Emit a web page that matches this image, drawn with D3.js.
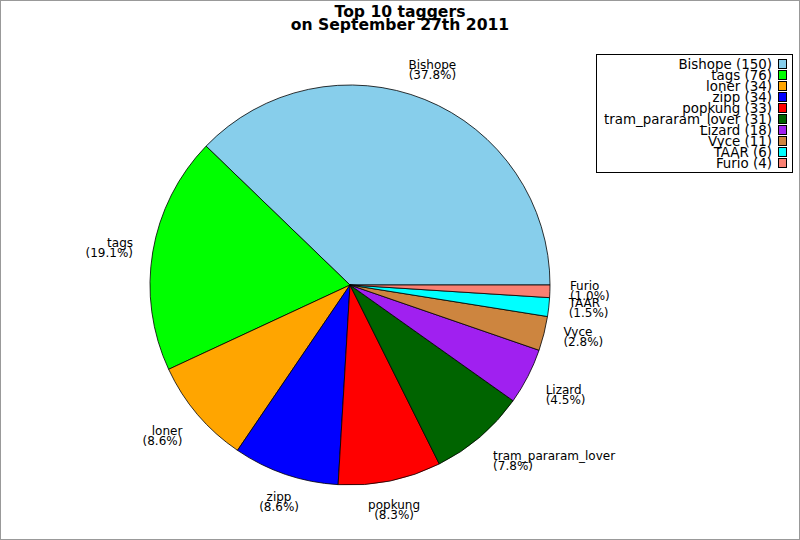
<!DOCTYPE html>
<html>
<head>
<meta charset="utf-8">
<script src="https://cdn.jsdelivr.net/npm/d3@7"></script>
<style>
  body { margin: 0; background: #fff; }
  svg { display: block; }
  text { font-family: "DejaVu Sans", sans-serif; fill: #000; }
</style>
</head>
<body>
<div id="chart"></div>
<script>
'use strict';

// top 10 taggers on 2011-09-27
var names = ["Bishope", "tags", "loner", "zipp", "popkung", "tram_pararam_lover", "Lizard", "Vyce", "TAAR", "Furio"];
var counts = [150, 76, 34, 34, 33, 31, 18, 11, 6, 4];
var colors = ["#87ceeb", "#00ff00", "#ffa500", "#0000ff", "#ff0000", "#006400", "#a020f0", "#cd853f", "#00ffff", "#fa8072"];
var titleLines = ["Top 10 taggers", "on September 27th 2011"];

var width = 800, height = 540;
var cx = 350, cy = 285, radius = 200;

var total = d3.sum(counts);

var svg = d3.select("#chart").append("svg")
    .attr("width", width)
    .attr("height", height);

svg.append("rect")
    .attr("x", 0.5).attr("y", 0.5)
    .attr("width", width - 1).attr("height", height - 1)
    .attr("fill", "#fff")
    .attr("stroke", "#999");

// title
svg.append("g").selectAll("text").data(titleLines).enter()
    .append("text")
    .attr("x", 400)
    .attr("y", function (d, i) { return 17 + i * 13; })
    .attr("text-anchor", "middle")
    .style("font-weight", "bold")
    .style("font-size", "15.6px")
    .text(function (d) { return d; });

// slices go counter-clockwise from 3 o'clock
var pie = d3.pie().sort(null)
    .startAngle(Math.PI / 2)
    .endAngle(Math.PI / 2 - 2 * Math.PI);

var arcs = pie(counts);

var arc = d3.arc().innerRadius(0).outerRadius(radius);
var labelArc = d3.arc().innerRadius(radius * 1.1).outerRadius(radius * 1.1);

var g = svg.append("g").attr("transform", "translate(" + cx + "," + cy + ")");

g.selectAll(".slice").data(arcs).enter()
    .append("path")
    .attr("class", "slice")
    .attr("d", arc)
    .attr("fill", function (d, i) { return colors[i]; })
    .attr("stroke", "#000")
    .attr("stroke-width", 0.8);

g.selectAll(".lbl").data(arcs).enter()
    .append("text")
    .attr("class", "lbl")
    .style("font-size", "12px")
    .each(function (d, i) {
        var p = labelArc.centroid(d);
        var len = Math.sqrt(p[0] * p[0] + p[1] * p[1]);
        var c = p[0] / len, s = -p[1] / len;
        var anchor = Math.abs(c) < 0.5 ? "middle" : (c > 0 ? "start" : "end");
        var b1;
        if (Math.abs(s) < 0.35) b1 = p[1] - 2;
        else if (s > 0) b1 = p[1] - 12;
        else b1 = p[1] + 8;
        var t = d3.select(this).attr("text-anchor", anchor);
        t.append("tspan").attr("x", p[0]).attr("y", b1).text(names[i]);
        t.append("tspan").attr("x", p[0]).attr("y", b1 + 10)
            .text("(" + (counts[i] / total * 100).toFixed(1) + "%)");
    });

// legend
var legend = svg.append("g");
legend.append("rect")
    .attr("x", 596.5).attr("y", 54.5)
    .attr("width", 196).attr("height", 118)
    .attr("fill", "#fff")
    .attr("stroke", "#000");

var rows = legend.selectAll(".row").data(names).enter()
    .append("g")
    .attr("class", "row")
    .attr("transform", function (d, i) { return "translate(0," + (64 + i * 11) + ")"; });

rows.append("text")
    .attr("x", 772)
    .attr("y", 4.5)
    .attr("text-anchor", "end")
    .style("font-size", "13.4px")
    .text(function (d, i) { return d + " (" + counts[i] + ")"; });

rows.append("rect")
    .attr("x", 778.5).attr("y", -4.5)
    .attr("width", 8).attr("height", 9)
    .attr("fill", function (d, i) { return colors[i]; })
    .attr("stroke", "#000");
</script>
</body>
</html>
